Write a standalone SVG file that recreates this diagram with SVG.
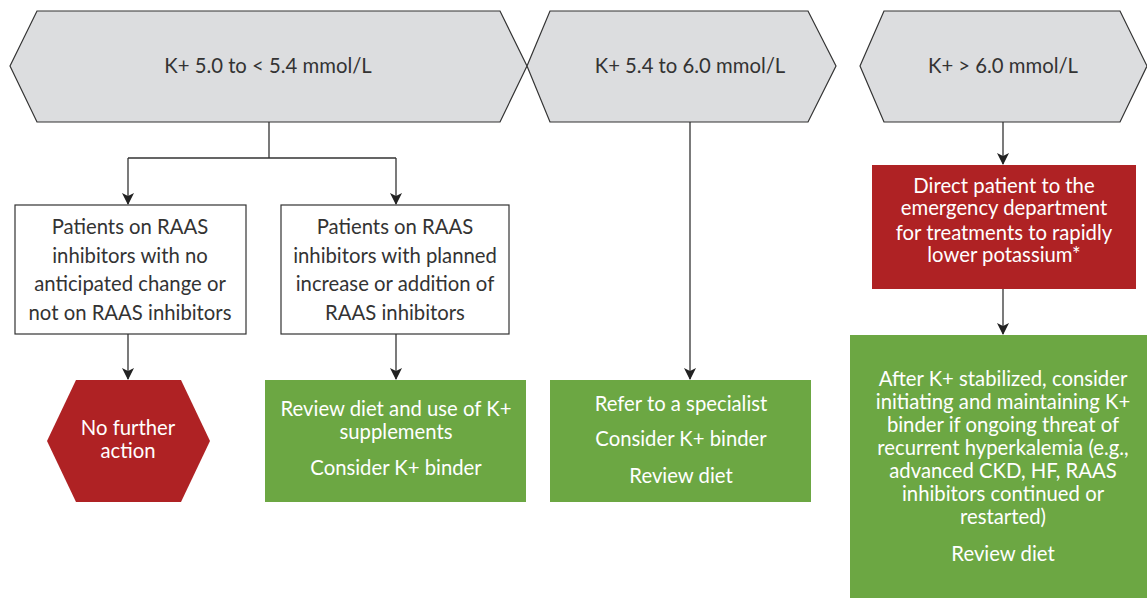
<svg xmlns="http://www.w3.org/2000/svg" width="1147" height="598" viewBox="0 0 1147 598">
<style>
text{font-family:Lato,"Liberation Sans",sans-serif;font-size:20.3px;text-anchor:middle}
.hdr{fill:#dcdddf;stroke:#333;stroke-width:1.2}
.dk{fill:#333}
.wt{fill:#fff}
.box{fill:#fff;stroke:#333;stroke-width:1.2}
.red{fill:#af2224}
.grn{fill:#6ca743}
.ln{fill:none;stroke:#333;stroke-width:1.3}
</style>
<defs>
<marker id="ah" viewBox="0 0 12 12" refX="11" refY="6" markerWidth="12" markerHeight="12" markerUnits="userSpaceOnUse" orient="auto">
<path d="M0,0 L12,6 L0,12 L3,6 Z" fill="#222"/>
</marker>
</defs>
<g id="connectors">
<path class="ln" d="M269,122 V158 M128,158 H396"/>
<path class="ln" d="M128,158 V204" marker-end="url(#ah)"/>
<path class="ln" d="M396,158 V204" marker-end="url(#ah)"/>
<path class="ln" d="M128,334 V379" marker-end="url(#ah)"/>
<path class="ln" d="M396,334 V379" marker-end="url(#ah)"/>
<path class="ln" d="M690,122 V379" marker-end="url(#ah)"/>
<path class="ln" d="M1003,122 V164" marker-end="url(#ah)"/>
<path class="ln" d="M1003,289 V334" marker-end="url(#ah)"/>
</g>
<g id="h1">
<polygon class="hdr" points="10,66 37,11 500,11 527,66 500,122 37,122"/>
<text class="dk" x="268" y="73">K+ 5.0 to &lt; 5.4 mmol/L</text>
</g>
<g id="h2">
<polygon class="hdr" points="527,66 550,11 808,11 836,66 808,122 550,122"/>
<text class="dk" x="690" y="73">K+ 5.4 to 6.0 mmol/L</text>
</g>
<g id="h3">
<polygon class="hdr" points="860,66 884,11 1120,11 1147,66 1120,122 884,122"/>
<text class="dk" x="1003" y="73">K+ &gt; 6.0 mmol/L</text>
</g>
<g id="b1">
<rect class="box" x="15" y="205" width="231" height="129"/>
<text class="dk" x="130" y="234">Patients on RAAS</text>
<text class="dk" x="130" y="263">inhibitors with no</text>
<text class="dk" x="130" y="291">anticipated change or</text>
<text class="dk" x="130" y="320">not on RAAS inhibitors</text>
</g>
<g id="b2">
<rect class="box" x="281" y="205" width="228" height="129"/>
<text class="dk" x="395" y="234">Patients on RAAS</text>
<text class="dk" x="395" y="263">inhibitors with planned</text>
<text class="dk" x="395" y="291">increase or addition of</text>
<text class="dk" x="395" y="320">RAAS inhibitors</text>
</g>
<g id="r1">
<polygon class="red" points="47,441 76,380 181,380 210,441 181,502 76,502"/>
<text class="wt" x="128" y="435">No further</text>
<text class="wt" x="128" y="458">action</text>
</g>
<g id="g1">
<rect class="grn" x="265" y="380" width="261" height="122"/>
<text class="wt" x="396" y="416">Review diet and use of K+</text>
<text class="wt" x="396" y="439">supplements</text>
<text class="wt" x="396" y="475">Consider K+ binder</text>
</g>
<g id="g2">
<rect class="grn" x="550" y="380" width="261" height="122"/>
<text class="wt" x="681" y="411">Refer to a specialist</text>
<text class="wt" x="681" y="446">Consider K+ binder</text>
<text class="wt" x="681" y="483">Review diet</text>
</g>
<g id="r2">
<rect class="red" x="872" y="165" width="264" height="124"/>
<text class="wt" x="1004" y="193">Direct patient to the</text>
<text class="wt" x="1004" y="215">emergency department</text>
<text class="wt" x="1004" y="240">for treatments to rapidly</text>
<text class="wt" x="1004" y="262">lower potassium*</text>
</g>
<g id="g3">
<rect class="grn" x="850" y="335" width="297" height="263"/>
<text class="wt" x="1003" y="386">After K+ stabilized, consider</text>
<text class="wt" x="1003" y="409">initiating and maintaining K+</text>
<text class="wt" x="1003" y="432">binder if ongoing threat of</text>
<text class="wt" x="1003" y="455">recurrent hyperkalemia (e.g.,</text>
<text class="wt" x="1003" y="478">advanced CKD, HF, RAAS</text>
<text class="wt" x="1003" y="501">inhibitors continued or</text>
<text class="wt" x="1003" y="524">restarted)</text>
<text class="wt" x="1003" y="561">Review diet</text>
</g>
</svg>
